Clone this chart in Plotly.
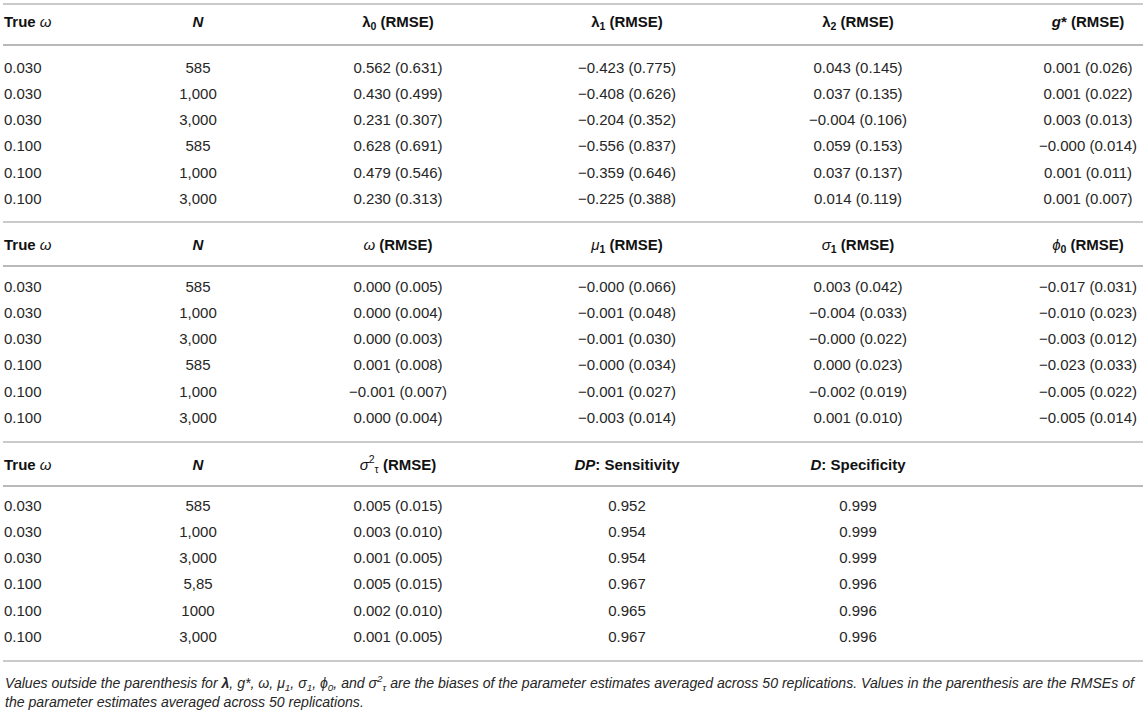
import plotly.graph_objects as go

true_omega = ["0.030", "0.030", "0.030", "0.100", "0.100", "0.100"]
n_main = ["585", "1,000", "3,000", "585", "1,000", "3,000"]
n_last = ["585", "1,000", "3,000", "5,85", "1000", "3,000"]

lam0 = ["0.562 (0.631)", "0.430 (0.499)", "0.231 (0.307)", "0.628 (0.691)", "0.479 (0.546)", "0.230 (0.313)"]
lam1 = ["−0.423 (0.775)", "−0.408 (0.626)", "−0.204 (0.352)", "−0.556 (0.837)", "−0.359 (0.646)", "−0.225 (0.388)"]
lam2 = ["0.043 (0.145)", "0.037 (0.135)", "−0.004 (0.106)", "0.059 (0.153)", "0.037 (0.137)", "0.014 (0.119)"]
gstar = ["0.001 (0.026)", "0.001 (0.022)", "0.003 (0.013)", "−0.000 (0.014)", "0.001 (0.011)", "0.001 (0.007)"]

omega = ["0.000 (0.005)", "0.000 (0.004)", "0.000 (0.003)", "0.001 (0.008)", "−0.001 (0.007)", "0.000 (0.004)"]
mu1 = ["−0.000 (0.066)", "−0.001 (0.048)", "−0.001 (0.030)", "−0.000 (0.034)", "−0.001 (0.027)", "−0.003 (0.014)"]
sigma1 = ["0.003 (0.042)", "−0.004 (0.033)", "−0.000 (0.022)", "0.000 (0.023)", "−0.002 (0.019)", "0.001 (0.010)"]
phi0 = ["−0.017 (0.031)", "−0.010 (0.023)", "−0.003 (0.012)", "−0.023 (0.033)", "−0.005 (0.022)", "−0.005 (0.014)"]

sigma_tau2 = ["0.005 (0.015)", "0.003 (0.010)", "0.001 (0.005)", "0.005 (0.015)", "0.002 (0.010)", "0.001 (0.005)"]
dp_sens = ["0.952", "0.954", "0.954", "0.967", "0.965", "0.967"]
d_spec = ["0.999", "0.999", "0.999", "0.996", "0.996", "0.996"]

head1 = ["<b>True</b> <i>ω</i>", "<b><i>N</i></b>", "<b>λ<sub>0</sub> (RMSE)</b>",
         "<b>λ<sub>1</sub> (RMSE)</b>", "<b>λ<sub>2</sub> (RMSE)</b>", "<b><i>g</i>* (RMSE)</b>"]
head2 = ["<b>True</b> <i>ω</i>", "<b><i>N</i></b>", "<i>ω</i> <b>(RMSE)</b>",
         "<i>μ</i><b><sub>1</sub> (RMSE)</b>", "<i>σ</i><b><sub>1</sub> (RMSE)</b>",
         "<i>ϕ</i><b><sub>0</sub> (RMSE)</b>"]
head3 = ["<b>True</b> <i>ω</i>", "<b><i>N</i></b>", "<i>σ</i><sup>2</sup><sub>τ</sub> <b>(RMSE)</b>",
         "<b><i>DP</i>: Sensitivity</b>", "<b><i>D</i>: Specificity</b>"]

note_lines = [
    "<i>Values outside the parenthesis for <b>λ</b>, g*, ω, μ<sub>1</sub>, σ<sub>1</sub>, ϕ<sub>0</sub>, "
    "and σ<sup>2</sup><sub>τ</sub> are the biases of the parameter estimates averaged across 50 "
    "replications. Values in the parenthesis are the RMSEs of</i>",
    "<i>the parameter estimates averaged across 50 replications.</i>",
]

blocks = [
    (head1, [true_omega, n_main, lam0, lam1, lam2, gstar]),
    (head2, [true_omega, n_main, omega, mu1, sigma1, phi0]),
    (head3, [true_omega, n_last, sigma_tau2, dp_sens, d_spec]),
]

# ---- layout (pixel coordinates) ----
W, H = 1146, 713
COL_X = [4, 198, 398, 627, 858, 1088]
HEADER_Y = [23, 246, 466]
HEAD_RULE_Y = [45, 266, 486]
FIRST_ROW_Y = [69, 288, 507]
ROW_STEP = 26.2
END_RULE_Y = [222, 442, 661]
TOP_RULE_Y = 4
NOTE_Y = [683, 702]

FONT = "Liberation Sans, Arial, sans-serif"
TXT = "#262626"

fig = go.Figure()

for b, (heads, cols) in enumerate(blocks):
    for j, head in enumerate(heads):
        pos = "middle right" if j == 0 else "middle center"
        fig.add_trace(go.Scatter(
            x=[COL_X[j]], y=[HEADER_Y[b]], mode="text", text=[head],
            textposition=pos, textfont=dict(family=FONT, size=15, color="#111111"),
            hoverinfo="skip", showlegend=False))
    for j, col in enumerate(cols):
        pos = "middle right" if j == 0 else "middle center"
        ys = [FIRST_ROW_Y[b] + i * ROW_STEP for i in range(len(col))]
        fig.add_trace(go.Scatter(
            x=[COL_X[j]] * len(col), y=ys, mode="text", text=col,
            textposition=pos, textfont=dict(family=FONT, size=15, color=TXT),
            hoverinfo="skip", showlegend=False))

# horizontal rules
rules = [(TOP_RULE_Y, 1.3)] + [(y, 2.2) for y in HEAD_RULE_Y] + [(y, 1.3) for y in END_RULE_Y]
for y, w in rules:
    fig.add_shape(type="line", x0=3, x1=1143, y0=y, y1=y, xref="x", yref="y",
                  line=dict(color="#b9b9b9", width=w))

for y, line in zip(NOTE_Y, note_lines):
    fig.add_annotation(x=3, y=y, xref="x", yref="y", text=line, showarrow=False,
                       xanchor="left", yanchor="middle", align="left",
                       font=dict(family=FONT, size=14.1, color=TXT))

fig.update_layout(
    width=W, height=H,
    margin=dict(l=0, r=0, t=0, b=0),
    paper_bgcolor="white", plot_bgcolor="white",
    xaxis=dict(range=[0, W], visible=False, fixedrange=True),
    yaxis=dict(range=[H, 0], visible=False, fixedrange=True),
)

fig.write_html("out.html", config={"displayModeBar": False},
               post_script="document.body.style.margin='0';document.body.style.overflow='hidden';")
